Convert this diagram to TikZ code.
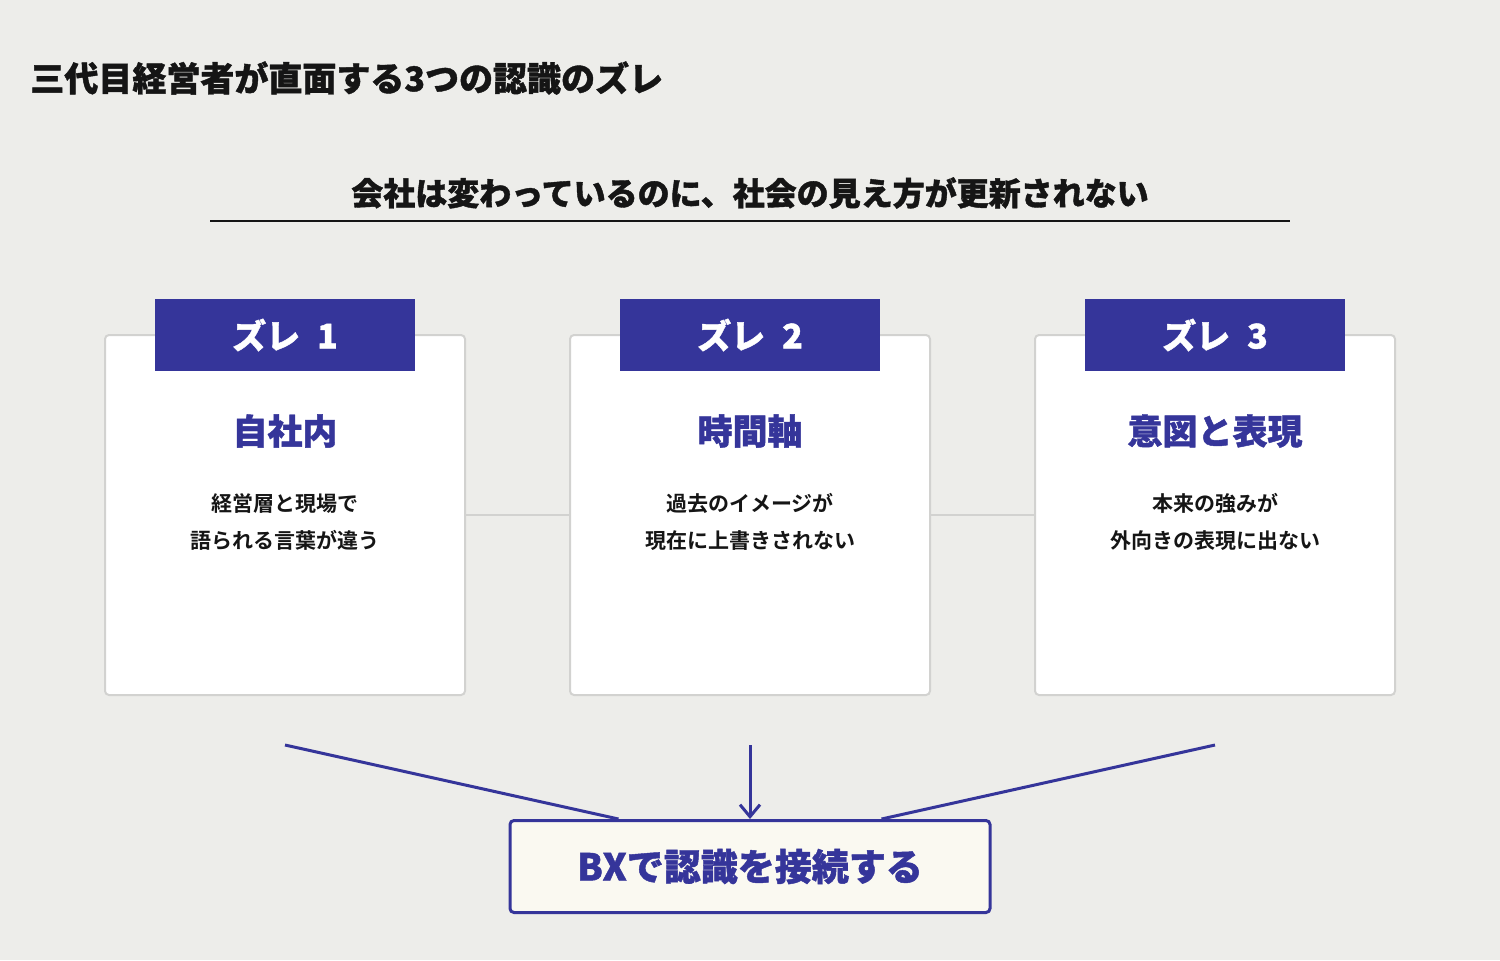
\documentclass[tikz,border=0pt]{standalone}
\usepackage{fontspec}
\setmainfont{Noto Sans CJK JP}[BoldFont={Noto Sans CJK JP Bold}]
\newfontfamily\heavy{Noto Sans CJK JP Black}[FakeBold=1.2]
\usetikzlibrary{positioning,arrows.meta}
\definecolor{bgpaper}{HTML}{EDEDEA}
\definecolor{navy}{HTML}{35359A}
\definecolor{cardline}{HTML}{D2D2D0}
\definecolor{creme}{HTML}{FAF9F1}
\definecolor{ink}{HTML}{151515}

\begin{document}
\begin{tikzpicture}[
      card/.style={draw=cardline, line width=1pt, fill=white, rounded corners=2pt,
                   minimum width=180pt, minimum height=180pt, inner sep=0pt},
      tab/.style={fill=navy, text=white, minimum width=130pt, minimum height=36pt,
                  inner sep=0pt, font=\fontsize{17}{17}\selectfont\heavy},
      head/.style={text=navy, font=\fontsize{17.5}{18}\selectfont\heavy},
      body/.style={text=ink, align=center, font=\fontsize{10.5}{18.5}\selectfont\bfseries},
      link/.style={draw=cardline, line width=1pt},
      feed/.style={navy, line width=1.5pt},
      goal/.style={draw=navy, line width=1.5pt, fill=creme, rounded corners=2pt,
                   minimum width=240pt, minimum height=46pt, text=navy,
                   font=\fontsize{18.5}{18.5}\selectfont\heavy},
      node distance=51.5pt]
    \fill[bgpaper] (0,0) rectangle (750pt,-480pt);
    \node[anchor=west, inner sep=0pt, text=ink, font=\fontsize{17}{17}\selectfont\heavy] (title) at (15pt,-39pt) {三代目経営者が直面する3つの認識のズレ};
    \node[inner sep=0pt, text=ink, font=\fontsize{16}{17}\selectfont\heavy] (lead) at (375pt,-96.5pt) {会社は変わっているのに、社会の見え方が更新されない};
    \draw[ink, line width=1pt] (105pt,-110.5pt) -- (645pt,-110.5pt);
    \node[card] (c1) at (142.5pt,-257.5pt) {};
    \node[card, right=of c1] (c2) {};
    \node[card, right=of c2] (c3) {};
    \draw[link] (c1.east) -- (c2.west); \draw[link] (c2.east) -- (c3.west);
    \node[tab] (t1) at ([yshift=-0.5pt]c1.north) {ズレ\hspace{0.5em}1};
    \node[tab] (t2) at ([yshift=-0.5pt]c2.north) {ズレ\hspace{0.5em}2};
    \node[tab] (t3) at ([yshift=-0.5pt]c3.north) {ズレ\hspace{0.5em}3};
    \node[head] (h1) at ([yshift=-48.5pt]c1.north) {自社内};
    \node[head] (h2) at ([yshift=-48.5pt]c2.north) {時間軸};
    \node[head] (h3) at ([yshift=-48.5pt]c3.north) {意図と表現};
    \node[body] (b1) at ([yshift=-94pt]c1.north) {経営層と現場で\\語られる言葉が違う};
    \node[body] (b2) at ([yshift=-94pt]c2.north) {過去のイメージが\\現在に上書きされない};
    \node[body] (b3) at ([yshift=-94pt]c3.north) {本来の強みが\\外向きの表現に出ない};
    \node[goal, below=61.5pt of c2] (bx) {BXで認識を接続する};
    \coordinate[below=24.5pt of c1.south] (s1);
    \coordinate[below=24.5pt of c2.south] (s2);
    \coordinate[below=24.5pt of c3.south] (s3);
    \coordinate (e1) at ([xshift=55pt]bx.north west);
    \coordinate (e3) at ([xshift=-55pt]bx.north east);
    \draw[feed] (s1) -- (e1);
    \draw[feed, -{Straight Barb[length=6pt, width=10pt]}] (s2) -- (bx.north);
    \draw[feed] (s3) -- (e3);
  \end{tikzpicture}
\end{document}
